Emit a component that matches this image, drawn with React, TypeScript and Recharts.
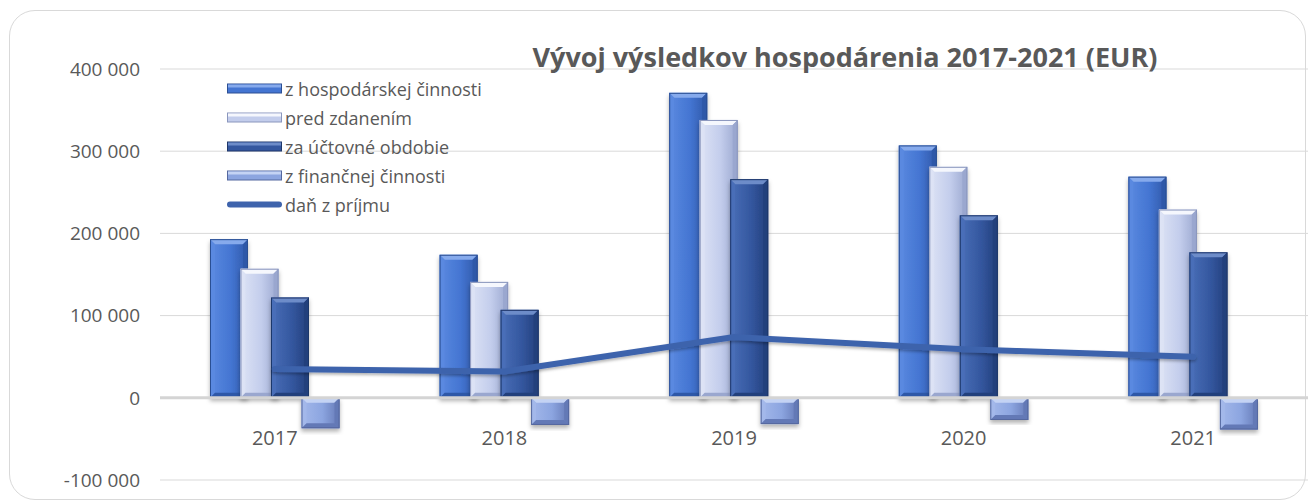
import React from 'react';
import { ComposedChart, Bar, Line, XAxis, YAxis, CartesianGrid, ReferenceLine, Legend } from 'recharts';

// values (EUR)
const years = ['2017', '2018', '2019', '2020', '2021'];
const hospodarska = [193000, 174000, 371000, 307000, 269000];
const predZdanenim = [157000, 141000, 338000, 281000, 229000];
const zaObdobie = [122000, 107000, 266000, 222000, 177000];
const financna = [-37000, -33000, -32000, -27000, -38500];
const danZPrijmu = [35000, 32000, 74000, 59000, 50000];
const yTicks = [-100000, 0, 100000, 200000, 300000, 400000];

const TITLE = 'Vývoj výsledkov hospodárenia 2017-2021 (EUR)';
const TEXT = '#595959';
const FONT = '"Open Sans", "Noto Sans", sans-serif';
const LINE_COLOR = '#3e63ac';

type Pal = { light: string; top: string; base: string; dark: string; edge: string };

const barSeries: { key: string; name: string; pal: Pal }[] = [
  { key: 'hosp', name: 'z hospodárskej činnosti', pal: { light: '#5b8ae0', top: '#86aaec', base: '#4475d2', dark: '#2f58a8', edge: '#2c4f93' } },
  { key: 'pred', name: 'pred zdanením', pal: { light: '#dde3f5', top: '#f5f7fd', base: '#c3cdec', dark: '#9aa7cf', edge: '#8a96bd' } },
  { key: 'za', name: 'za účtovné obdobie', pal: { light: '#4a6fb8', top: '#6d8cc9', base: '#34579f', dark: '#233f7b', edge: '#1f376a' } },
  { key: 'fin', name: 'z finančnej činnosti', pal: { light: '#a3b8ea', top: '#c4d3f4', base: '#8ca5e0', dark: '#6479b6', edge: '#55689f' } },
];
const lineName = 'daň z príjmu';

const chartData = years.map((year, i) => ({
  year,
  hosp: hospodarska[i],
  pred: predZdanenim[i],
  za: zaObdobie[i],
  fin: financna[i],
  tax: danZPrijmu[i],
}));

const fmt = (v: number) => {
  const s = Math.abs(v).toString().replace(/\B(?=(\d{3})+(?!\d))/g, ' ');
  return v < 0 ? '-' + s : s;
};

// bevelled "3D" bar like the Excel original
const BevelBar = (props: any) => {
  const { x, y, width, height, pal, id } = props;
  if (width == null || height == null || !height) return null;
  const top = Math.min(y, y + height);
  const h = Math.abs(height);
  const w = width;
  const b = Math.max(1, Math.min(5, w / 4, h / 3));
  const l = x, r = x + w, t = top, bt = top + h;
  return (
    <g filter="url(#barShadow)">
      <rect x={l} y={t} width={w} height={h} fill={`url(#grad-${id})`} />
      <polygon points={`${l},${t} ${r},${t} ${r - b},${t + b} ${l + b},${t + b}`} fill={pal.top} />
      <polygon points={`${l},${t} ${l + b},${t + b} ${l + b},${bt - b} ${l},${bt}`} fill={pal.light} opacity={0.85} />
      <polygon points={`${r},${t} ${r},${bt} ${r - b},${bt - b} ${r - b},${t + b}`} fill={pal.dark} />
      <polygon points={`${l},${bt} ${r},${bt} ${r - b},${bt - b} ${l + b},${bt - b}`} fill={pal.dark} />
      <rect x={l + 0.5} y={t + 0.5} width={w - 1} height={h - 1} fill="none" stroke={pal.edge} strokeWidth={1} />
    </g>
  );
};

const YearTick = (props: any) => {
  const { x, y, payload } = props;
  return (
    <text x={x} y={y - 35} textAnchor="middle" fill={TEXT} fontSize={20} fontFamily={FONT}>
      {payload.value}
    </text>
  );
};

const LegendContent = () => (
  <div style={{ fontFamily: FONT, fontSize: 18, color: TEXT }}>
    {barSeries.map((s) => (
      <div key={s.key} style={{ display: 'flex', alignItems: 'center', height: 29 }}>
        <svg width={56} height={11} style={{ marginRight: 2 }}>
          <rect x={0.5} y={1} width={54} height={9} fill={s.pal.base} stroke={s.pal.edge} />
          <rect x={1} y={1.5} width={53} height={3} fill={s.pal.top} />
        </svg>
        <span>{s.name}</span>
      </div>
    ))}
    <div style={{ display: 'flex', alignItems: 'center', height: 29 }}>
      <svg width={56} height={11} style={{ marginRight: 2 }}>
        <line x1={3} y1={5.5} x2={52} y2={5.5} stroke={LINE_COLOR} strokeWidth={6} strokeLinecap="round" />
      </svg>
      <span>{lineName}</span>
    </div>
  </div>
);

export default function App() {
  return (
    <div style={{ position: 'absolute', left: 0, top: 0, width: 1308, height: 504, background: '#fff', overflow: 'hidden' }}>
      <div
        style={{
          position: 'absolute', left: 9, top: 10, width: 1297, height: 490,
          border: '1.5px solid #d9d9d9', borderRadius: 26, boxSizing: 'border-box',
        }}
      />
      <ComposedChart
        width={1308}
        height={504}
        data={chartData}
        margin={{ top: 69, right: 0, bottom: 23, left: 10 }}
        barSize={38}
        barGap={-7.5}
      >
        <defs>
          {barSeries.map((s) => (
            <linearGradient key={s.key} id={`grad-${s.key}`} x1="0" y1="0" x2="1" y2="0">
              <stop offset="0%" stopColor={s.pal.light} />
              <stop offset="55%" stopColor={s.pal.base} />
              <stop offset="100%" stopColor={s.pal.dark} />
            </linearGradient>
          ))}
          <filter id="barShadow" x="-20%" y="-10%" width="140%" height="130%">
            <feDropShadow dx="0" dy="3" stdDeviation="2" floodColor="#000" floodOpacity="0.3" />
          </filter>
          <filter id="lineShadow" x="-5%" y="-50%" width="110%" height="200%">
            <feDropShadow dx="0" dy="2" stdDeviation="1.5" floodColor="#000" floodOpacity="0.3" />
          </filter>
        </defs>
        <CartesianGrid horizontal vertical={false} stroke="#d9d9d9" />
        <XAxis
          dataKey="year"
          axisLine={false}
          tickLine={false}
          tickSize={0}
          tickMargin={0}
          height={1}
          interval={0}
          tick={<YearTick />}
        />
        <YAxis
          width={150}
          domain={[-100000, 400000]}
          ticks={yTicks}
          tickFormatter={fmt}
          axisLine={false}
          tickLine={false}
          tickSize={0}
          tickMargin={20}
          tick={{ fill: TEXT, fontSize: 19, fontFamily: FONT }}
          allowDataOverflow
        />
        <ReferenceLine y={0} stroke="#d4d4d4" strokeWidth={3} />
        <Legend
          layout="vertical"
          align="center"
          verticalAlign="middle"
          content={<LegendContent />}
          wrapperStyle={{ top: 74, left: 227, width: 320 }}
        />
        {barSeries.map((s) => (
          <Bar
            key={s.key}
            dataKey={s.key}
            name={s.name}
            isAnimationActive={false}
            shape={(p: any) => <BevelBar {...p} pal={s.pal} id={s.key} />}
          />
        ))}
        <Line
          type="linear"
          dataKey="tax"
          name={lineName}
          stroke={LINE_COLOR}
          strokeWidth={6}
          strokeLinecap="round"
          dot={false}
          activeDot={false}
          filter="url(#lineShadow)"
          isAnimationActive={false}
        />
      </ComposedChart>
      <div
        style={{
          position: 'absolute', left: 845, top: 43, transform: 'translateX(-50%)',
          fontFamily: FONT, fontWeight: 700, fontSize: 27, lineHeight: 1,
          color: TEXT, whiteSpace: 'nowrap',
        }}
      >
        {TITLE}
      </div>
    </div>
  );
}
